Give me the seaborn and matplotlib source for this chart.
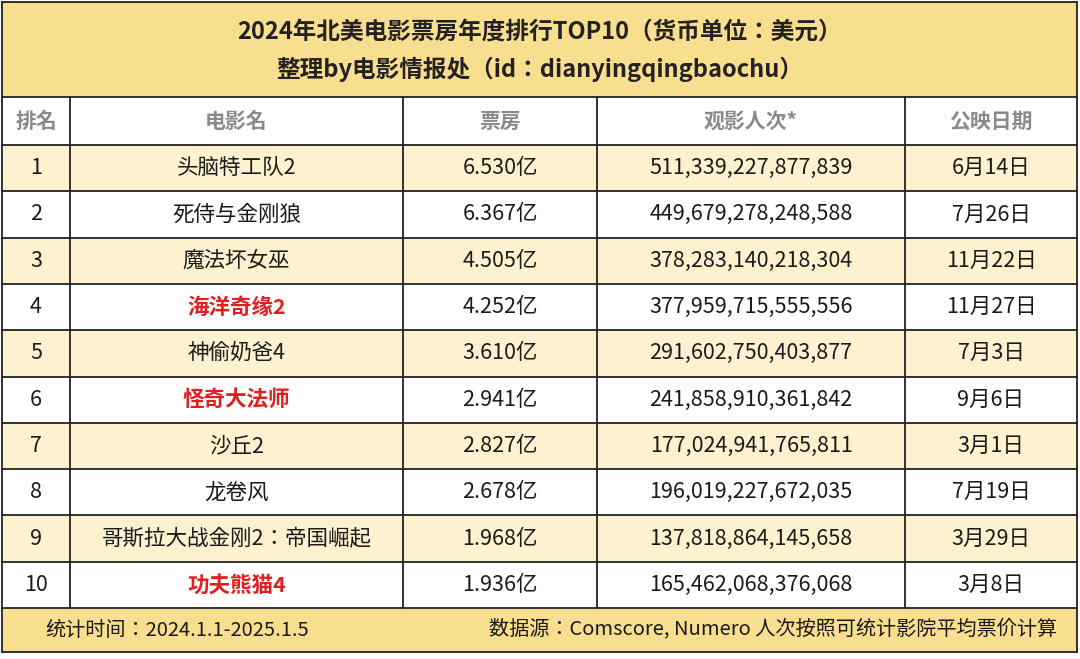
import numpy as np
import matplotlib.pyplot as plt
import seaborn as sns
from matplotlib.patches import Rectangle

ranks = ['1', '2', '3', '4', '5', '6', '7', '8', '9', '10']
movies = ['头脑特工队2', '死侍与金刚狼', '魔法坏女巫', '海洋奇缘2', '神偷奶爸4',
          '怪奇大法师', '沙丘2', '龙卷风', '哥斯拉大战金刚2：帝国崛起', '功夫熊猫4']
box_office = ['6.530亿', '6.367亿', '4.505亿', '4.252亿', '3.610亿',
              '2.941亿', '2.827亿', '2.678亿', '1.968亿', '1.936亿']
admissions = ['511,339,227,877,839', '449,679,278,248,588', '378,283,140,218,304',
              '377,959,715,555,556', '291,602,750,403,877', '241,858,910,361,842',
              '177,024,941,765,811', '196,019,227,672,035', '137,818,864,145,658',
              '165,462,068,376,068']
release = ['6月14日', '7月26日', '11月22日', '11月27日', '7月3日',
           '9月6日', '3月1日', '7月19日', '3月29日', '3月8日']
red_movies = ['海洋奇缘2', '怪奇大法师', '功夫熊猫4']
headers = ['排名', '电影名', '票房', '观影人次*', '公映日期']

plt.rcParams['font.family'] = 'sans-serif'
plt.rcParams['font.sans-serif'] = ['Noto Sans CJK SC', 'Noto Sans CJK JP', 'DejaVu Sans']
fig = plt.figure(figsize=(10.8, 6.59), dpi=100)
ax = fig.add_axes([0, 0, 1, 1])
ax.set_xlim(0, 1080)
ax.set_ylim(659, 0)
ax.axis('off')

col_x = [2, 70, 403, 597, 905, 1077]
top_h, head_top, row_top, row_h = 97, 97, 145, 46.3
foot_top = row_top + 10 * row_h
foot_bot = 652

band = '#f8df90'
stripe = '#fdf1cf'

# stripes via seaborn heatmap
stripes = np.array([[1 if i % 2 == 0 else 0] * 5 for i in range(10)])
ax2 = fig.add_axes([col_x[0] / 1080, 1 - foot_top / 659,
                    (col_x[-1] - col_x[0]) / 1080, 10 * row_h / 659])
sns.heatmap(stripes, ax=ax2, cmap=sns.color_palette(['white', stripe]),
            cbar=False, xticklabels=False, yticklabels=False)
ax2.axis('off')
ax2.set_zorder(0)
ax.set_zorder(1)
ax.patch.set_alpha(0)

ax.add_patch(Rectangle((col_x[0], 2), col_x[-1] - col_x[0], top_h - 2, fc=band, ec='none'))
ax.add_patch(Rectangle((col_x[0], foot_top), col_x[-1] - col_x[0], foot_bot - foot_top, fc=band, ec='none'))

lc = '#222222'
ys = [2, head_top, row_top] + [row_top + row_h * (i + 1) for i in range(10)] + [foot_bot]
for y in ys:
    ax.plot([col_x[0], col_x[-1]], [y, y], color=lc, lw=1.3)
for x in col_x:
    if x in (col_x[0], col_x[-1]):
        ax.plot([x, x], [2, foot_bot], color=lc, lw=1.3)
    else:
        ax.plot([x, x], [head_top, foot_top], color=lc, lw=1.3)

ax.text(540, 32, '2024年北美电影票房年度排行TOP10（货币单位：美元）', ha='center', va='center',
        fontsize=17, fontweight='bold', color='#222222')
ax.text(540, 69, '整理by电影情报处（id：dianyingqingbaochu）', ha='center', va='center',
        fontsize=17, fontweight='bold', color='#222222')

centers = [(col_x[i] + col_x[i + 1]) / 2 for i in range(5)]
for c, h in zip(centers, headers):
    ax.text(c, (head_top + row_top) / 2, h, ha='center', va='center', fontsize=15,
            fontweight='bold', color='#8a8a8a')

for i in range(10):
    yc = row_top + row_h * (i + 0.5)
    vals = [ranks[i], movies[i], box_office[i], admissions[i], release[i]]
    for j, v in enumerate(vals):
        red = j == 1 and movies[i] in red_movies
        ax.text(centers[j], yc, v, ha='center', va='center', fontsize=15.5,
                color='#e02020' if red else '#1a1a1a', fontweight='bold' if red else 'normal')

ax.text(45, (foot_top + foot_bot) / 2, '统计时间：2024.1.1-2025.1.5', ha='left', va='center',
        fontsize=14.5, color='#1a1a1a')
ax.text(1057, (foot_top + foot_bot) / 2, '数据源：Comscore, Numero 人次按照可统计影院平均票价计算',
        ha='right', va='center', fontsize=14.5, color='#1a1a1a')

fig.savefig('out.png', dpi=100, facecolor='white')
